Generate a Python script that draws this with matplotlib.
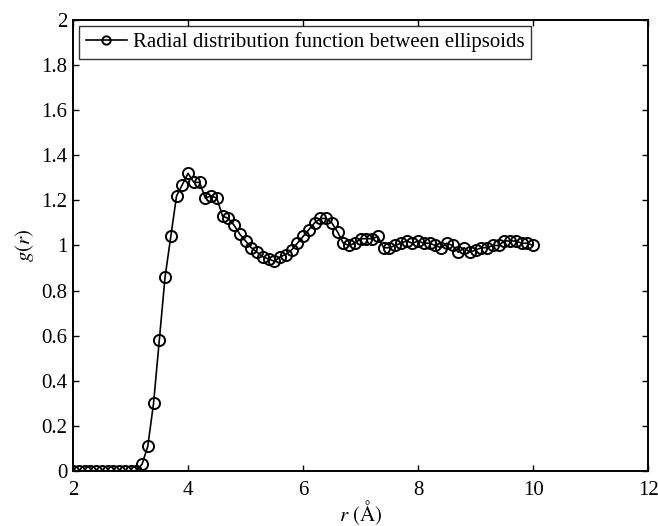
import numpy as np
import matplotlib
matplotlib.use("Agg")
import matplotlib.pyplot as plt
from matplotlib.ticker import FuncFormatter

# radial distance r (Angstrom), 2.0 .. 10.0 in 0.1 steps
r = [round(2.0 + 0.1 * i, 1) for i in range(81)]

# g(r)
g = [
    0.0, 0.0, 0.0, 0.0, 0.0, 0.0, 0.0, 0.0, 0.0, 0.0,   # 2.0 - 2.9
    0.0, 0.0, 0.03, 0.11, 0.30, 0.58, 0.86, 1.04, 1.22, 1.27,  # 3.0 - 3.9
    1.32, 1.28, 1.28, 1.21, 1.22, 1.21, 1.13, 1.12, 1.09, 1.05,  # 4.0 - 4.9
    1.02, 0.99, 0.97, 0.95, 0.94, 0.93, 0.95, 0.96, 0.98, 1.01,  # 5.0 - 5.9
    1.04, 1.07, 1.10, 1.12, 1.12, 1.10, 1.06, 1.01, 1.00, 1.01,  # 6.0 - 6.9
    1.03, 1.03, 1.03, 1.04, 0.99, 0.99, 1.00, 1.01, 1.02, 1.01,  # 7.0 - 7.9
    1.02, 1.01, 1.01, 1.00, 0.99, 1.01, 1.00, 0.97, 0.99, 0.97,  # 8.0 - 8.9
    0.98, 0.99, 0.99, 1.00, 1.00, 1.02, 1.02, 1.02, 1.01, 1.01,  # 9.0 - 9.9
    1.00,                                                # 10.0
]

xticks = [2, 4, 6, 8, 10, 12]
yticks = [0, 0.2, 0.4, 0.6, 0.8, 1.0, 1.2, 1.4, 1.6, 1.8, 2.0]

plt.rcParams["font.family"] = ["Liberation Serif", "DejaVu Serif"]
plt.rcParams["mathtext.fontset"] = "stix"

fig = plt.figure(figsize=(6.58, 5.26), dpi=100)
ax = fig.add_axes([0.111, 0.1046, 0.874, 0.8574])

ax.plot(r, g, color="black", linewidth=1.2, marker="o", markersize=8,
        markerfacecolor="none", markeredgecolor="black", markeredgewidth=1.4,
        label="Radial distribution function between ellipsoids")

ax.set_xlim(2, 12)
ax.set_ylim(0, 2)
ax.set_xticks(xticks)
ax.set_yticks(yticks)
ax.yaxis.set_major_formatter(FuncFormatter(lambda v, p: "%g" % round(v, 1)))
ax.tick_params(direction="in", length=4.5, width=1.0, labelsize=15,
               top=True, right=True)
ax.tick_params(axis="x", pad=7)
ax.tick_params(axis="y", pad=4)
for s in ax.spines.values():
    s.set_linewidth(1.4)

ax.set_xlabel(r"$r\ (\mathrm{\AA})$", fontsize=15, labelpad=-1)
ax.set_ylabel(r"$g(r)$", fontsize=15, labelpad=4)

leg = ax.legend(loc="upper left", fontsize=15, frameon=True, fancybox=False,
                edgecolor="black", borderpad=0.3, handlelength=2.0,
                handletextpad=0.3, borderaxespad=0.3)
leg.get_frame().set_linewidth(1.0)
leg.legend_handles[0].set_markersize(6)

fig.savefig("out.png", dpi=100)
